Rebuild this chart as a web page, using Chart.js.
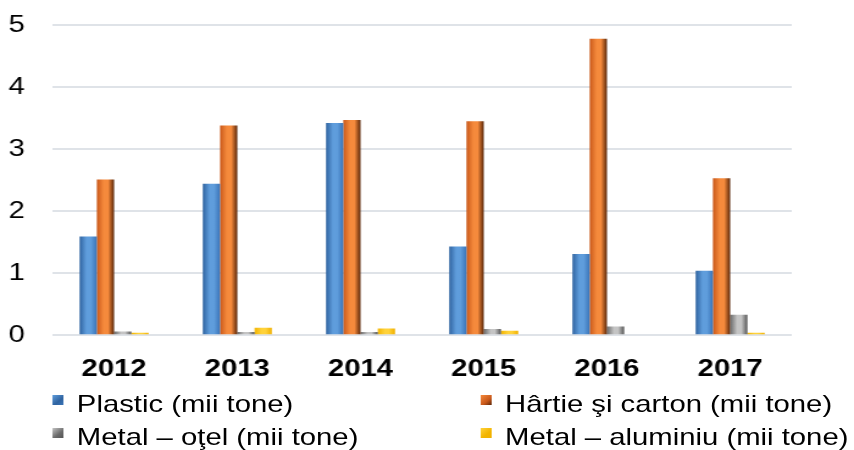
<!DOCTYPE html>
<html>
<head>
<meta charset="utf-8">
<script src="https://cdn.jsdelivr.net/npm/chart.js@4.4.1/dist/chart.umd.min.js"></script>
<style>
    html, body { margin: 0; padding: 0; background: #fff; overflow: hidden; }
    #wrap {
        position: relative;
        width: 700px;
        height: 450px;
        transform: scaleX(1.22);
        transform-origin: 0 0;
        font-family: "Liberation Sans", Arial, sans-serif;
    }
    #chartBox { position: absolute; left: 0; top: 0; width: 700px; height: 400px; }
    #legend {
        position: absolute;
        left: 43px;
        top: 390px;
        display: grid;
        grid-template-columns: 351px auto;
        row-gap: 6px;
        font-size: 24px;
        color: #000;
    }
    .item { display: flex; align-items: center; height: 27px; white-space: nowrap; }
    .box { width: 9px; height: 10px; margin-right: 11px; margin-top: -8px; }
</style>
</head>
<body>
<div id="wrap">
    <div id="chartBox"><canvas id="wasteChart"></canvas></div>
    <div id="legend"></div>
</div>
<script>
const years = ['2012', '2013', '2014', '2015', '2016', '2017'];
const plastic = [1.59, 2.44, 3.42, 1.43, 1.31, 1.04];
const paper = [2.51, 3.38, 3.47, 3.45, 4.78, 2.53];
const steel = [0.06, 0.05, 0.05, 0.10, 0.14, 0.33];
const aluminium = [0.04, 0.12, 0.11, 0.07, 0, 0.04];
const yTicks = [0, 1, 2, 3, 4, 5];

const seriesNames = [
    'Plastic (mii tone)',
    'Hârtie şi carton (mii tone)',
    'Metal – oţel (mii tone)',
    'Metal – aluminiu (mii tone)'
];

// left, middle, right shades for the 3d look
const shades = [
    ['#2f63a0', '#5f9ddc', '#3a74b8'],
    ['#c9581a', '#f58a3c', '#5a2608'],
    ['#6a6a6a', '#c4c4c4', '#555555'],
    ['#f2b400', '#ffd23a', '#f0b000']
];

const catPct = 0.56;

function barGradient(context) {
    const chart = context.chart;
    const xScale = chart.scales && chart.scales.x;
    const di = context.datasetIndex;
    const s = shades[di];
    if (!xScale || context.dataIndex === undefined) {
        return s[1];
    }
    const catW = xScale.width / years.length;
    const barW = catW * catPct / 4;
    const cx = xScale.getPixelForValue(context.dataIndex) + (di - 1.5) * barW;
    if (!isFinite(cx) || !isFinite(barW) || barW <= 0) {
        return s[1];
    }
    const g = chart.ctx.createLinearGradient(cx - barW / 2, 0, cx + barW / 2, 0);
    g.addColorStop(0, s[0]);
    g.addColorStop(0.4, s[1]);
    g.addColorStop(0.65, s[1]);
    g.addColorStop(1, s[2]);
    return g;
}

const ds = [plastic, paper, steel, aluminium].map(function (values, i) {
    return {
        label: seriesNames[i],
        data: values,
        backgroundColor: barGradient,
        borderWidth: 0,
        barPercentage: 1,
        categoryPercentage: catPct
    };
});

Chart.defaults.font.family = '"Liberation Sans", Arial, sans-serif';
Chart.defaults.color = '#000';

const wasteChart = new Chart(document.getElementById('wasteChart'), {
    type: 'bar',
    data: { labels: years, datasets: ds },
    options: {
        responsive: true,
        maintainAspectRatio: false,
        animation: false,
        layout: { padding: { left: 7, right: 51, top: 25, bottom: 4 } },
        plugins: {
            legend: { display: false },
            tooltip: { enabled: false }
        },
        scales: {
            x: {
                grid: { display: false },
                border: { display: false },
                ticks: { font: { size: 24, weight: 'bold' }, padding: 12 }
            },
            y: {
                min: 0,
                max: 5,
                afterBuildTicks: function (axis) {
                    axis.ticks = yTicks.map(v => ({ value: v }));
                },
                afterFit: function (axis) {
                    axis.width = 36;
                },
                grid: { color: '#dfe3e8', lineWidth: 2, drawTicks: false },
                border: { display: false },
                ticks: { font: { size: 24 }, padding: 0, crossAlign: 'far' }
            }
        }
    }
});

// two column legend under the chart
const legendEl = document.getElementById('legend');
wasteChart.data.datasets.forEach(function (d, i) {
    const s = shades[i];
    const item = document.createElement('div');
    item.className = 'item';
    const box = document.createElement('span');
    box.className = 'box';
    box.style.background = 'linear-gradient(135deg, ' + s[1] + ', ' + s[0] + ' 60%, ' + s[2] + ')';
    const txt = document.createElement('span');
    txt.textContent = d.label;
    item.appendChild(box);
    item.appendChild(txt);
    legendEl.appendChild(item);
});
</script>
</body>
</html>
